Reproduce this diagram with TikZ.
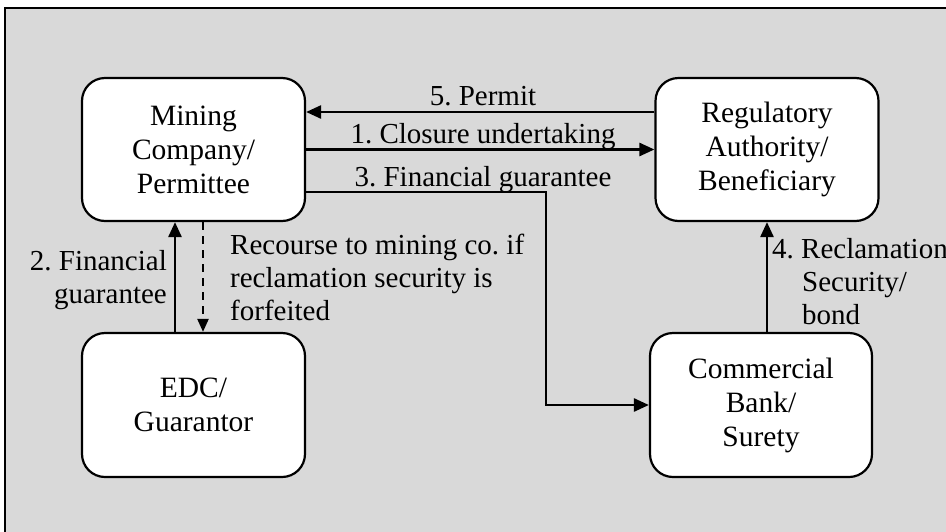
\documentclass[tikz,border=0pt]{standalone}
\usepackage{fontspec}
\setmainfont{Liberation Serif}
\usetikzlibrary{arrows.meta,calc}
\definecolor{bggray}{RGB}{217,217,217}
\frenchspacing
\begin{document}
\begin{tikzpicture}[x=1pt,y=-1pt,
  box/.style={draw,line width=2.2pt,fill=white,rounded corners=23pt,minimum width=223pt,minimum height=143pt,align=center,font=\frenchspacing\fontsize{29.5}{34}\selectfont,inner sep=0pt},
  lbl/.style={font=\frenchspacing\fontsize{29}{33}\selectfont,inner sep=0pt},
  arr/.style={line width=2.6pt,-{Triangle[length=15pt,width=13pt]}},
  darr/.style={line width=2.2pt,dash pattern=on 8pt off 6pt,-{Triangle[length=13pt,width=11pt]}}
  ]
\useasboundingbox (0,0) rectangle (946,531);
\fill[bggray] (5,8) rectangle (950,535);
\draw[line width=1.3pt] (5,535) -- (5,8) -- (950,8);

\node[box] (min) at (193.5,149.5) {Mining\\Company/\\Permittee};
\node[box] (reg) at (767,149.5) {Regulatory\\Authority/\\Beneficiary};
\node[box,minimum height=144pt] (edc) at (193.5,405) {EDC/\\Guarantor};
\node[box,minimum width=222pt,minimum height=144pt] (com) at (761,405) {Commercial\\Bank/\\Surety};

% 5. Permit
\draw[arr] ([yshift=37.5pt]reg.west) -- ([yshift=37.5pt]min.east);
\node[lbl,anchor=base] (l5) at (483,105) {5. Permit};
% 1. Closure undertaking
\draw[arr] (min.east) -- (reg.west);
\node[lbl,anchor=base] (l1) at (483,143) {1. Closure undertaking};
% 3. Financial guarantee
\coordinate (c3) at (546,405);
\draw[arr] ([yshift=-42.5pt]min.east) -| (c3) -- (com.west);
\node[lbl,anchor=base] (l3) at (483,186) {3. Financial guarantee};
% 4. Reclamation security
\draw[arr] (reg.south |- com.north) -- (reg.south);
\node[lbl,anchor=base west] (l4a) at (772,258) {4. Reclamation};
\node[lbl,anchor=base west] (l4b) at (802,291) {Security/};
\node[lbl,anchor=base west] (l4c) at (802,324) {bond};
% 2. Financial guarantee
\draw[arr] ([xshift=-18.5pt]edc.north) -- ([xshift=-18.5pt]min.south);
\node[lbl,anchor=base east] (l2a) at (167,270) {2. Financial};
\node[lbl,anchor=base east] (l2b) at (167,303) {guarantee};
% Recourse (dashed)
\draw[darr] ([xshift=9.5pt]min.south) -- ([xshift=9.5pt]edc.north);
\node[lbl,anchor=base west] (r1) at (230,254) {Recourse to mining co. if};
\node[lbl,anchor=base west] (r2) at (230,287) {reclamation security is};
\node[lbl,anchor=base west] (r3) at (230,320) {forfeited};
\end{tikzpicture}
\end{document}
